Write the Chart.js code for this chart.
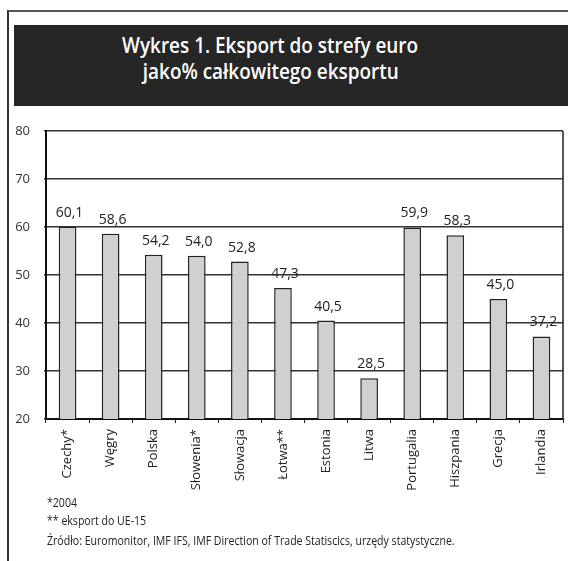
<!DOCTYPE html>
<html>
<head>
<meta charset="utf-8">
<script src="https://cdn.jsdelivr.net/npm/chart.js@4"></script>
<style>
  body { margin: 0; width: 568px; height: 561px; position: relative; background: #fff; overflow: hidden; }
  #frame { position: absolute; left: 7px; top: 10px; width: 620px; height: 600px; border-left: 2px solid #333; border-top: 2px solid #555; }
  #titleBar { position: absolute; left: 14px; top: 25px; width: 600px; height: 81px; background: #262626; }
  #titleText { width: 513px; padding-top: 6px; text-align: center; color: #fff; font: 600 22px/26px "Open Sans", sans-serif; }
  #titleText span { display: inline-block; transform: scaleX(0.86); white-space: nowrap; }
  #chart { position: absolute; left: 0; top: 0; }
  .note { position: absolute; left: 47px; color: #222; font: 12px "Open Sans", sans-serif; white-space: nowrap; transform: scaleX(0.88); transform-origin: left top; }
</style>
</head>
<body>
<div id="frame"></div>
<div id="titleBar"><div id="titleText"><span>Wykres 1. Eksport do strefy euro</span><br><span>jako% całkowitego eksportu</span></div></div>
<canvas id="chart" width="568" height="561"></canvas>
<div class="note" style="top:494px">*2004</div>
<div class="note" style="top:512px">** eksport do UE-15</div>
<div class="note" style="top:532px">Źródło: Euromonitor, IMF IFS, IMF Direction of Trade Statiscics, urzędy statystyczne.</div>
<script>
const categories = ['Czechy*', 'Węgry', 'Polska', 'Słowenia*', 'Słowacja', 'Łotwa**', 'Estonia', 'Litwa', 'Portugalia', 'Hiszpania', 'Grecja', 'Irlandia'];
const exportShare = [60.1, 58.6, 54.2, 54.0, 52.8, 47.3, 40.5, 28.5, 59.9, 58.3, 45.0, 37.2];
const yMin = 20;
const yMax = 80;
const yStep = 10;

// value labels above bars, polish decimal comma
const barLabels = {
  id: 'barLabels',
  afterDatasetsDraw(chart) {
    const c = chart.ctx;
    c.save();
    c.font = '14px "Open Sans", sans-serif';
    c.fillStyle = '#222';
    c.textAlign = 'center';
    c.textBaseline = 'middle';
    chart.getDatasetMeta(0).data.forEach((bar, i) => {
      c.fillText(exportShare[i].toFixed(1).replace('.', ','), bar.x + 2, bar.y - 14);
    });
    c.restore();
  }
};

// right edge of the plot box
const rightBorder = {
  id: 'rightBorder',
  beforeDatasetsDraw(chart) {
    const a = chart.chartArea;
    const c = chart.ctx;
    c.save();
    c.strokeStyle = '#222';
    c.lineWidth = 1.5;
    c.beginPath();
    c.moveTo(a.right, a.top);
    c.lineTo(a.right, a.bottom);
    c.stroke();
    c.restore();
  }
};

const ctx = document.getElementById('chart').getContext('2d');
const chart = new Chart(ctx, {
  type: 'bar',
  data: {
    labels: categories,
    datasets: [{
      data: exportShare,
      backgroundColor: '#d0d0d0',
      borderColor: '#222',
      borderWidth: 1.5,
      barPercentage: 0.41,
      categoryPercentage: 1
    }]
  },
  options: {
    responsive: false,
    animation: false,
    devicePixelRatio: 1,
    layout: { padding: { left: 0, top: 131, right: 5, bottom: 0 } },
    plugins: { legend: { display: false }, tooltip: { enabled: false } },
    scales: {
      x: {
        afterFit: s => { s.height = 142; },
        grid: { drawOnChartArea: false, drawTicks: true, tickLength: 4, color: '#222', offset: true },
        border: { color: '#111', width: 2 },
        ticks: {
          minRotation: 90, maxRotation: 90, padding: 6,
          color: '#222', font: { family: 'Open Sans', size: 13 }
        }
      },
      y: {
        min: yMin, max: yMax,
        afterFit: s => { s.width = 46; },
        grid: { color: '#333', lineWidth: 1.5, tickLength: 2 },
        border: { color: '#111', width: 2 },
        ticks: {
          stepSize: yStep, padding: 14,
          color: '#333', font: { family: 'Open Sans', size: 13 }
        }
      }
    }
  },
  plugins: [barLabels, rightBorder]
});
</script>
</body>
</html>
